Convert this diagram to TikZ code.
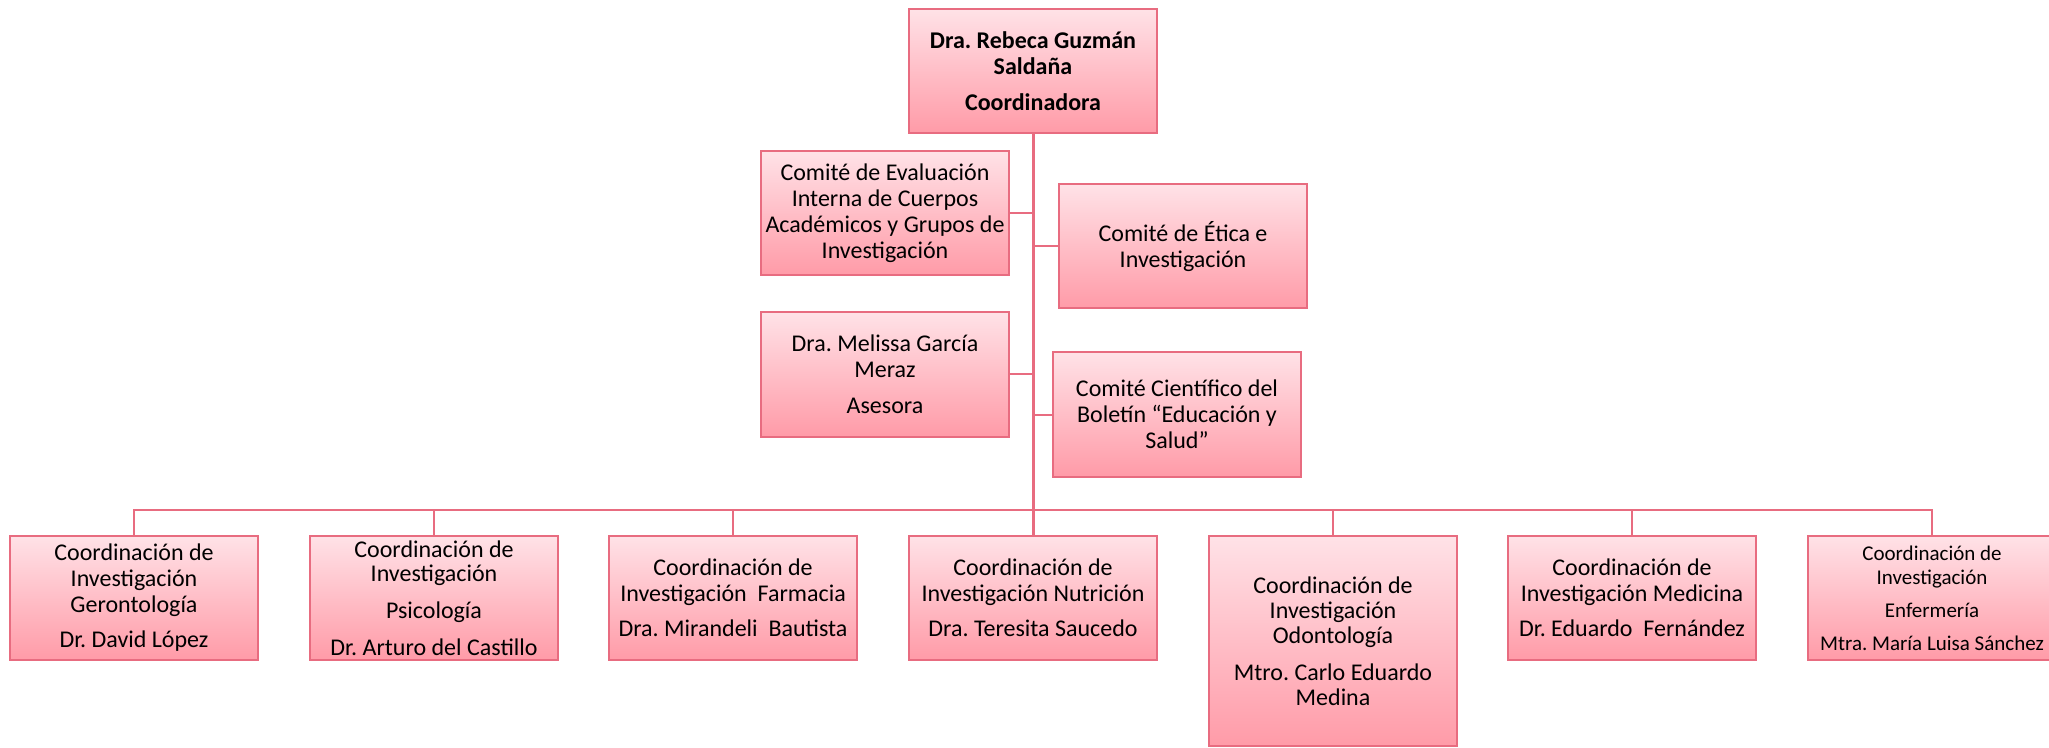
\documentclass[tikz,border=0pt]{standalone}
\usepackage{fontspec}
\setmainfont{Carlito}
\frenchspacing
\definecolor{pkline}{RGB}{232,108,128}
\definecolor{pktop}{RGB}{255,226,231}
\definecolor{pkmid}{RGB}{255,190,199}
\definecolor{pkbot}{RGB}{255,155,168}
\pgfdeclareverticalshading{boxshade}{100bp}{color(0bp)=(pkbot); color(25bp)=(pkbot); color(50bp)=(pkmid); color(75bp)=(pktop); color(100bp)=(pktop)}
\tikzset{
  orgbox/.style={draw=pkline, line width=1pt, shading=boxshade, minimum width=124pt, minimum height=62pt, inner sep=0pt, align=center, font=\fontsize{12}{13}\selectfont},
  link/.style={draw=pkline, line width=1pt},
  trunk/.style={draw=pkline, line width=1.5pt}
}
\begin{document}
\begin{tikzpicture}[x=0.5pt, y=-0.5pt]
\useasboundingbox (0,0) rectangle (2049,748);
\coordinate (bus) at (1033,510);
\node[orgbox, font=\bfseries\fontsize{12}{13}\selectfont] (top) at (1033,71) {Dra. Rebeca Guzmán\\Saldaña\\[5pt]Coordinadora};
\node[orgbox] (eval) at (885,213) {Comité de Evaluación\\Interna de Cuerpos\\Académicos y Grupos de\\Investigación};
\node[orgbox] (etica) at (1183,246.5) {Comité de Ética e\\Investigación};
\node[orgbox] (mel) at (885,374.5) {Dra. Melissa García\\Meraz\\[5pt]Asesora};
\node[orgbox] (cient) at (1177,414.5) {Comité Científico del\\Boletín “Educación y\\Salud”};
\node[orgbox] (b1) at (134,598) {Coordinación de\\Investigación\\Gerontología\\[4.5pt]Dr. David López};
\node[orgbox, font=\fontsize{12}{12}\selectfont] (b2) at (434,598) {Coordinación de\\Investigación\\[6.5pt]Psicología\\[6.5pt]Dr. Arturo del Castillo};
\node[orgbox] (b3) at (733,598) {Coordinación de\\Investigación~ Farmacia\\[4.5pt]Dra. Mirandeli~ Bautista};
\node[orgbox] (b4) at (1033,598) {Coordinación de\\Investigación Nutrición\\[4.5pt]Dra. Teresita Saucedo};
\node[orgbox, minimum height=105pt, font=\fontsize{12}{12.5}\selectfont] (b5) at (1333,641) {Coordinación de\\Investigación\\Odontología\\[6pt]Mtro. Carlo Eduardo\\Medina};
\node[orgbox] (b6) at (1632,598) {Coordinación de\\Investigación Medicina\\[4.5pt]Dr. Eduardo~ Fernández};
\node[orgbox, font=\fontsize{10.5}{12}\selectfont] (b7) at (1932,598) {Coordinación de\\Investigación\\[4.5pt]Enfermería\\[4.5pt]Mtra. María Luisa Sánchez};
\draw[trunk] (top.south) -- (b4.north);
\draw[link] (eval.east) -- (eval.east -| top.south);
\draw[link] (mel.east) -- (mel.east -| top.south);
\draw[link] (etica.west) -- (etica.west -| top.south);
\draw[link] (cient.west) -- (cient.west -| top.south);
\draw[link] (b1.north) |- (bus) -| (b7.north);
\foreach \b in {b2,b3,b5,b6} \draw[link] (\b.north) -- (\b.north |- bus);
\end{tikzpicture}
\end{document}
